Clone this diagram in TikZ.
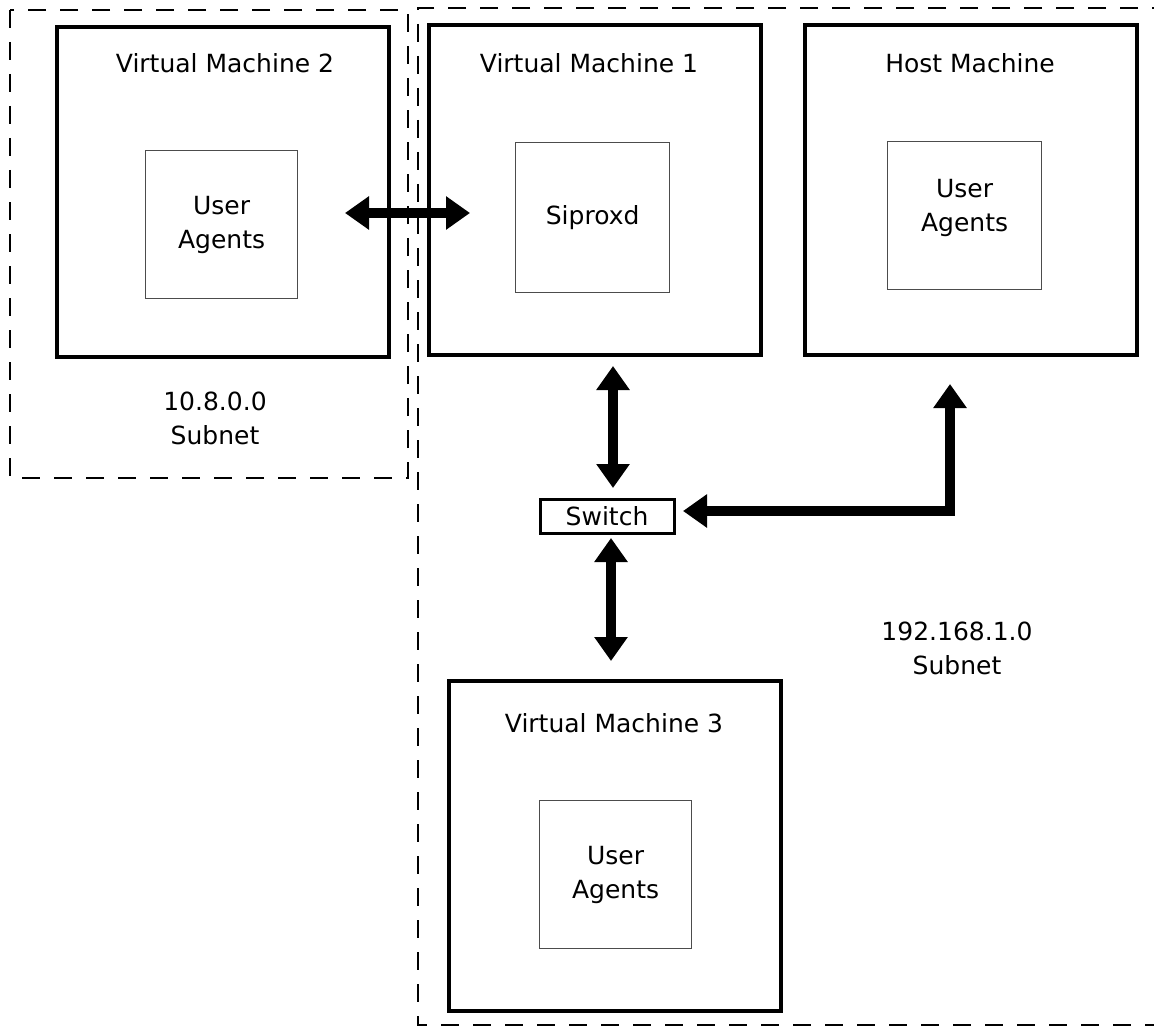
\documentclass[tikz,border=0pt]{standalone}
\usepackage{fontspec}
\setmainfont{DejaVu Sans}
\usetikzlibrary{arrows.meta}
\begin{document}
\begin{tikzpicture}[x=0.5pt,y=-0.5pt,
  machine/.style={draw,line width=2pt,minimum width=166pt,minimum height=165pt,anchor=north west,inner sep=0pt},
  inner/.style={draw=black!70,line width=0.6pt,minimum width=76pt,minimum height=74pt,anchor=north west,inner sep=0pt,align=center},
  title/.style={font=\fontsize{12.5}{17}\selectfont},
  lbl/.style={font=\fontsize{12.5}{17}\selectfont,align=center},
  region/.style={line width=1.4pt,dash pattern=on 9pt off 7pt},
  link/.style={line width=5pt,{Triangle[width=16pt,length=12pt]}-{Triangle[width=16pt,length=12pt]}}]
\useasboundingbox (0,0) rectangle (1154,1027);
% regions
\draw[region] (10,10) rectangle (408,478);
\draw[region] (1170,8) -- (418,8) -- (418,1025) -- (1170,1025);
% machines
\node[machine] (vm2) at (55,25) {};
\node[machine] (vm1) at (427,23) {};
\node[machine] (host) at (803,23) {};
\node[machine] (vm3) at (447,679) {};
\node[title] (t2) at (225,63) {Virtual Machine 2};
\node[title] (t1) at (589,63) {Virtual Machine 1};
\node[title] (th) at (970,63) {Host Machine};
\node[title] (t3) at (614,723) {Virtual Machine 3};
% inner boxes
\node[inner] (ua2) at (145,150) {};
\node[lbl] (l2) at (ua2.center) {User\\Agents};
\node[inner,minimum width=77pt,minimum height=75pt] (sip) at (515,142) {};
\node[lbl] (l1) at (sip.center) {Siproxd};
\node[inner,minimum width=77pt] (uah) at (887,141) {};
\node[lbl] (lh) at ([yshift=4pt]uah.center) {User\\Agents};
\node[inner] (ua3) at (539,800) {};
\node[lbl] (l3) at (ua3.center) {User\\Agents};
% subnet labels
\node[lbl] (s10) at (215,418) {10.8.0.0\\Subnet};
\node[lbl] (s192) at (957,648) {192.168.1.0\\Subnet};
% switch
\node[draw,line width=1.5pt,minimum width=67pt,minimum height=17pt,inner sep=0pt,font=\fontsize{12.5}{15}\selectfont] (sw) at (607,516) {Switch};
% connector end points
\coordinate (a1) at (345,213);
\coordinate (a2) at (470,213);
\coordinate (b1) at (613,366);
\coordinate (b2) at (613,488);
\coordinate (c1) at (611,538);
\coordinate (c2) at (611,661);
\coordinate (d1) at (950,384);
\coordinate (d2) at (683,511);
\draw[link] (a1) -- (a2);
\draw[link] (b1) -- (b2);
\draw[link] (c1) -- (c2);
\draw[link,line join=miter] (d1) |- (d2);
\end{tikzpicture}
\end{document}
